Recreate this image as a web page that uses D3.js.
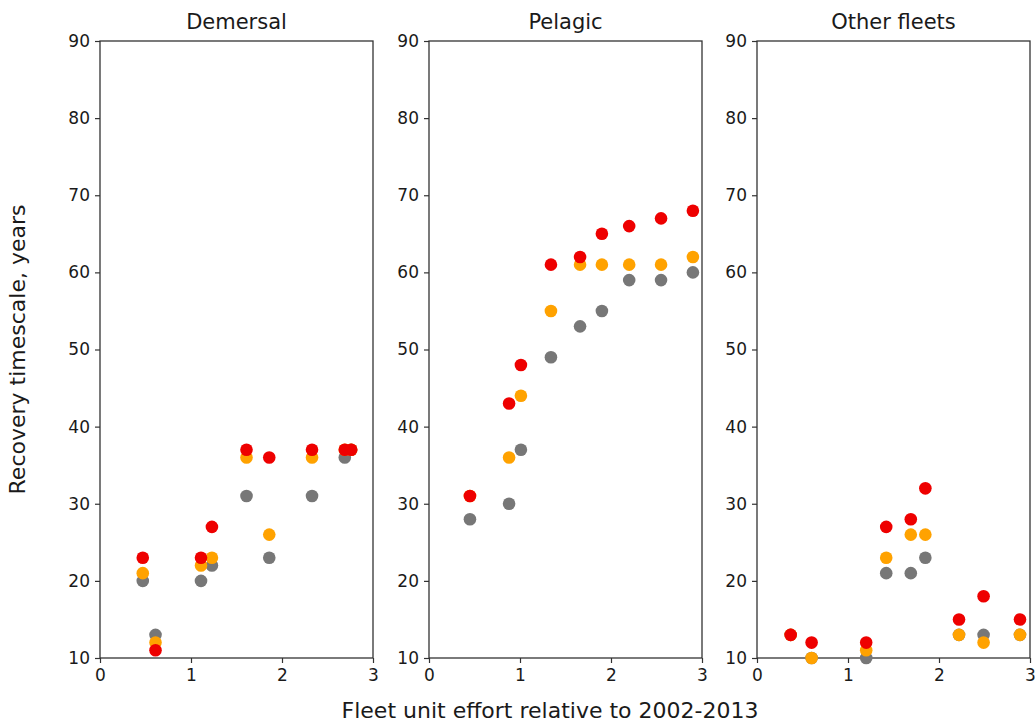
<!DOCTYPE html>
<html>
<head>
<meta charset="utf-8">
<script src="https://cdn.jsdelivr.net/npm/d3@7"></script>
<style>
  body { margin: 0; background: #fff; }
  text { font-family: "DejaVu Sans", sans-serif; fill: #1a1a1a; }
  .tick line { stroke: #333; }
  .domain { display: none; }
</style>
</head>
<body>
<svg id="chart" width="1035" height="722"></svg>
<script>
// panel titles
const panelNames = ['Demersal', 'Pelagic', 'Other fleets'];

// fleet unit effort (x) per panel
const demersalX = [0.47, 0.61, 1.11, 1.23, 1.61, 1.86, 2.33, 2.69, 2.76];
const pelagicX = [0.45, 0.88, 1.01, 1.34, 1.66, 1.90, 2.20, 2.55, 2.90];
const otherX = [0.37, 0.60, 1.20, 1.42, 1.69, 1.85, 2.22, 2.49, 2.89];

// recovery timescale, three series per panel (grey, orange, red)
const demersalGrey = [20, 13, 20, 22, 31, 23, 31, 36, 37];
const demersalOrange = [21, 12, 22, 23, 36, 26, 36, 37, 37];
const demersalRed = [23, 11, 23, 27, 37, 36, 37, 37, 37];

const pelagicGrey = [28, 30, 37, 49, 53, 55, 59, 59, 60];
const pelagicOrange = [31, 36, 44, 55, 61, 61, 61, 61, 62];
const pelagicRed = [31, 43, 48, 61, 62, 65, 66, 67, 68];

const otherGrey = [13, 10, 10, 21, 21, 23, 13, 13, 13];
const otherOrange = [13, 10, 11, 23, 26, 26, 13, 12, 13];
const otherRed = [13, 12, 12, 27, 28, 32, 15, 18, 15];

const xTicks = [0, 1, 2, 3];
const yTicks = [10, 20, 30, 40, 50, 60, 70, 80, 90];

const seriesColors = ['#777777', '#ffa200', '#ee0000'];

const panels = [
  { x: demersalX, series: [demersalGrey, demersalOrange, demersalRed] },
  { x: pelagicX, series: [pelagicGrey, pelagicOrange, pelagicRed] },
  { x: otherX, series: [otherGrey, otherOrange, otherRed] }
];

const svg = d3.select('#chart');
const panelLeft = [100, 429, 757];
const panelWidth = 273;
const plotTop = 41;
const plotBottom = 658;
const dotRadius = 6.3;

const y = d3.scaleLinear().domain([10, 90]).range([plotBottom, plotTop]);

panels.forEach((panel, i) => {
  const x = d3.scaleLinear().domain([0, 3]).range([panelLeft[i], panelLeft[i] + panelWidth]);
  const g = svg.append('g');

  g.append('g')
    .attr('transform', `translate(${panelLeft[i]},0)`)
    .call(d3.axisLeft(y).tickValues(yTicks).tickSize(5).tickPadding(5))
    .call(a => a.selectAll('text').style('font-size', '17px'))
    .call(a => a.selectAll('line').attr('stroke-width', 1.2));

  g.append('g')
    .attr('transform', `translate(0,${plotBottom})`)
    .call(d3.axisBottom(x).tickValues(xTicks).tickFormat(d3.format('d')).tickSize(5).tickPadding(6))
    .call(a => a.selectAll('text').style('font-size', '17px'))
    .call(a => a.selectAll('line').attr('stroke-width', 1.2));

  g.append('rect')
    .attr('x', panelLeft[i])
    .attr('y', plotTop)
    .attr('width', panelWidth)
    .attr('height', plotBottom - plotTop)
    .attr('fill', 'none')
    .attr('stroke', '#333')
    .attr('stroke-width', 1.3);

  g.append('text')
    .attr('x', panelLeft[i] + panelWidth / 2)
    .attr('y', 29)
    .attr('text-anchor', 'middle')
    .style('font-size', '21px')
    .text(panelNames[i]);

  panel.series.forEach((vals, s) => {
    g.selectAll(`.dot-${s}`)
      .data(vals.map((v, k) => [panel.x[k], v]))
      .enter()
      .append('circle')
      .attr('class', `dot-${s}`)
      .attr('cx', d => x(d[0]))
      .attr('cy', d => y(d[1]))
      .attr('r', dotRadius)
      .attr('fill', seriesColors[s]);
  });
});

svg.append('text')
  .attr('transform', `translate(25,${(plotTop + plotBottom) / 2}) rotate(-90)`)
  .attr('text-anchor', 'middle')
  .style('font-size', '22px')
  .text('Recovery timescale, years');

svg.append('text')
  .attr('x', 550)
  .attr('y', 718)
  .attr('text-anchor', 'middle')
  .style('font-size', '22px')
  .text('Fleet unit effort relative to 2002-2013');
</script>
</body>
</html>
